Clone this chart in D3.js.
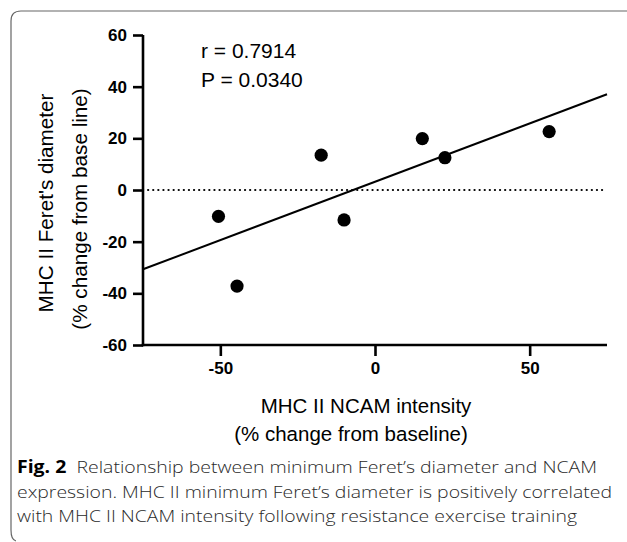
<!DOCTYPE html>
<html>
<head>
<meta charset="utf-8">
<script src="https://cdn.jsdelivr.net/npm/d3@7"></script>
<style>
  body { margin: 0; background: #fff; }
  svg { display: block; }
</style>
</head>
<body>
<svg id="chart" width="627" height="542"></svg>
<script>
// values
const ncam = [-50.6, -44.6, -17.4, -10.0, 15.3, 22.6, 56.3];
const feret = [-10.2, -37.2, 13.5, -11.6, 19.9, 12.5, 22.6];
const xTicks = [-50, 0, 50];
const yTicks = [-60, -40, -20, 0, 20, 40, 60];
const stats = ["r = 0.7914", "P = 0.0340"];
const xTitle = ["MHC II NCAM intensity", "(% change from baseline)"];
const yTitle = ["MHC II Feret's diameter", "(% change from base line)"];
const captionLines = [
  "Relationship between minimum Feret\u2019s diameter and NCAM",
  "expression. MHC II minimum Feret\u2019s diameter is positively correlated",
  "with MHC II NCAM intensity following resistance exercise training"
];

const svg = d3.select("#chart");
const font = "Liberation Sans, Arial, sans-serif";

// outer frame, open on the right and at the bottom
svg.append("path")
  .attr("d", "M627,11 H21 Q11,11 11,21 V530 Q11,540 16,541")
  .attr("fill", "none")
  .attr("stroke", "#666")
  .attr("stroke-width", 1.2);

const x = d3.scaleLinear().domain([-75, 75]).range([143, 607]);
const y = d3.scaleLinear().domain([-60, 60]).range([345, 35]);

// zero reference line
svg.append("line")
  .attr("x1", x(-75)).attr("x2", x(74.5))
  .attr("y1", y(0)).attr("y2", y(0))
  .attr("stroke", "#000")
  .attr("stroke-width", 2.2)
  .attr("stroke-linecap", "round")
  .attr("stroke-dasharray", "0.1,5");

// least squares fit
const mx = d3.mean(ncam), my = d3.mean(feret);
const sxy = d3.sum(ncam, (v, i) => (v - mx) * (feret[i] - my));
const sxx = d3.sum(ncam, v => (v - mx) * (v - mx));
const slope = sxy / sxx, icpt = my - slope * mx;
svg.append("line")
  .attr("x1", x(-75)).attr("y1", y(icpt + slope * -75))
  .attr("x2", x(75)).attr("y2", y(icpt + slope * 75))
  .attr("stroke", "#000")
  .attr("stroke-width", 2);

// axes (plain hyphen for negatives, as in the figure)
const fmt = d => String(d);
const yAxis = svg.append("g")
  .attr("transform", `translate(${x(-75)},0)`)
  .call(d3.axisLeft(y).tickValues(yTicks).tickFormat(fmt).tickSize(10).tickPadding(6));
const xAxis = svg.append("g")
  .attr("transform", `translate(0,${y(-60)})`)
  .call(d3.axisBottom(x).tickValues(xTicks).tickFormat(fmt).tickSize(11).tickPadding(6));

[xAxis, yAxis].forEach(g => {
  g.select(".domain").attr("stroke-width", 2.6);
  g.selectAll(".tick line").attr("stroke-width", 2.6);
  g.selectAll(".tick text")
    .attr("fill", "#000")
    .style("font-family", font)
    .style("font-weight", "bold")
    .style("font-size", "17px");
});
yAxis.select(".domain").attr("d", `M0,${y(60)}V${y(-60) + 1.3}`);
xAxis.select(".domain").attr("d", `M${x(-75) - 1.3},0H${x(75)}`);

// points
svg.append("g").selectAll("circle")
  .data(ncam)
  .join("circle")
  .attr("cx", d => x(d))
  .attr("cy", (d, i) => y(feret[i]))
  .attr("r", 6.6)
  .attr("fill", "#000");

// statistics
svg.append("g").selectAll("text")
  .data(stats)
  .join("text")
  .attr("x", 201)
  .attr("y", (d, i) => 58 + i * 29)
  .style("font-family", font)
  .style("font-size", "21px")
  .text(d => d);

// axis titles
const xTitleX = [366, 351];
svg.append("g").selectAll("text")
  .data(xTitle)
  .join("text")
  .attr("x", (d, i) => xTitleX[i])
  .attr("y", (d, i) => 412.5 + i * 28)
  .attr("text-anchor", "middle")
  .style("font-family", font).style("font-size", "20.5px")
  .text(d => d);

const yTitlePos = [[53, 203], [87, 209]];
svg.append("g").selectAll("text")
  .data(yTitle)
  .join("text")
  .attr("transform", (d, i) => `translate(${yTitlePos[i][0]},${yTitlePos[i][1]}) rotate(-90)`)
  .attr("text-anchor", "middle")
  .style("font-family", font).style("font-size", "20.7px")
  .text(d => d);

// caption
const capEnds = [597, 612, 577];
const cap = svg.append("g")
  .style("font-family", "Open Sans, Noto Sans, sans-serif")
  .style("font-size", "17px")
  .style("font-weight", 300)
  .attr("fill", "#2a2a2a");
captionLines.forEach((line, i) => {
  const t = cap.append("text")
    .attr("x", 17)
    .attr("y", 473 + i * 24.5)
    .attr("textLength", capEnds[i] - 17)
    .attr("lengthAdjust", "spacingAndGlyphs");
  if (i === 0) {
    t.append("tspan").style("font-weight", "bold").attr("fill", "#000").text("Fig. 2");
    t.append("tspan").text("\u00a0 " + line);
  } else {
    t.text(line);
  }
});
</script>
</body>
</html>
